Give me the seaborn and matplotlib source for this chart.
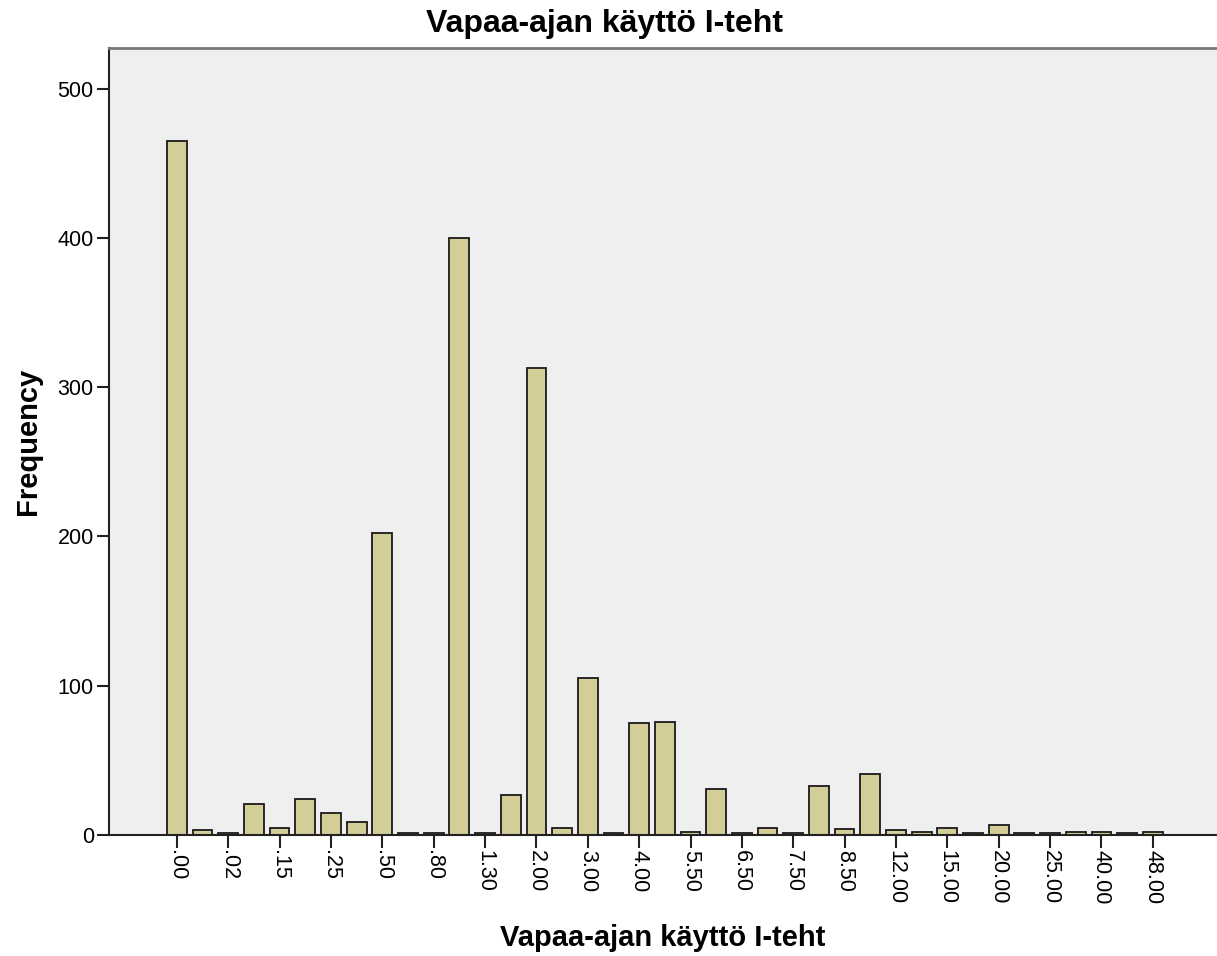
import matplotlib
matplotlib.use("Agg")
import matplotlib.pyplot as plt
import pandas as pd
import seaborn as sns

# category labels (every other one is shown on the axis)
categories = [".00", ".01", ".02", ".10", ".15", ".20", ".25", ".30", ".50", ".70",
              ".80", "1.00", "1.30", "1.50", "2.00", "2.50", "3.00", "3.50", "4.00", "5.00",
              "5.50", "6.00", "6.50", "7.00", "7.50", "8.00", "8.50", "10.00", "12.00", "14.00",
              "15.00", "16.00", "20.00", "24.00", "25.00", "30.00", "40.00", "45.00", "48.00"]
counts = [465, 3, 1, 21, 5, 24, 15, 9, 202, 1,
          1, 400, 1, 27, 313, 5, 105, 1, 75, 76,
          2, 31, 1, 5, 1, 33, 4, 41, 3, 2,
          5, 1, 7, 1, 1, 2, 2, 1, 2]
yticks = [0, 100, 200, 300, 400, 500]
title = "Vapaa-ajan käyttö I-teht"

df = pd.DataFrame({"cat": categories, "n": counts})

sns.set_style("white")
plt.rcParams["font.family"] = ["Liberation Sans", "DejaVu Sans"]
plt.rcParams["text.color"] = "black"

fig = plt.figure(figsize=(12.17, 9.56), dpi=100)
ax = fig.add_axes([0.0896, 0.1266, 0.9104, 0.8229])

sns.barplot(data=df, x="cat", y="n", order=categories, color="#d3ce97",
            width=0.77, edgecolor="#1a1a1a", linewidth=1.3, saturation=1, ax=ax)

ax.set_facecolor("#efefef")
ax.set_xlim(-2.64, 40.5)
ax.set_ylim(0, 527)
ax.set_yticks(yticks)
ax.set_yticklabels([str(v) for v in yticks], fontsize=15.5, color="black")

shown = list(range(0, len(categories), 2))
ax.set_xticks(shown)
ax.set_xticklabels([categories[i] for i in shown], rotation=270, fontsize=15.5,
                   va="top", color="black")

ax.tick_params(axis="both", bottom=True, left=True, length=9, width=1.5,
               color="#222222", direction="out")
ax.tick_params(axis="x", pad=2)
ax.tick_params(axis="y", pad=2)

for side in ["left", "bottom"]:
    ax.spines[side].set_color("#222222")
    ax.spines[side].set_linewidth(1.5)
ax.spines["top"].set_color("#777777")
ax.spines["top"].set_linewidth(2)
ax.spines["right"].set_visible(False)

ax.set_xlabel(title, fontsize=21, fontweight="bold", labelpad=14, color="black")
ax.set_ylabel("Frequency", fontsize=21, fontweight="bold", labelpad=11, color="black")
# the title sits over the middle of the whole figure, not the axes
fig.suptitle(title, x=0.497, y=0.9665, va="baseline", fontsize=23,
             fontweight="bold", color="black")

fig.savefig("out.png", dpi=100)
